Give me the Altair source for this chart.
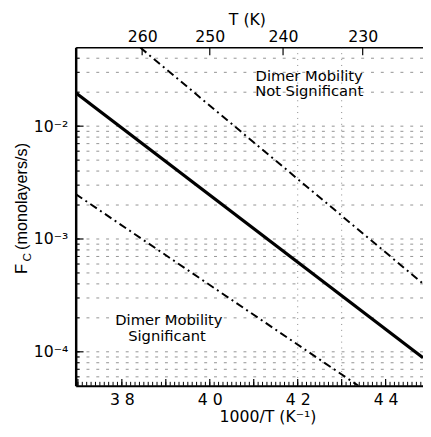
import altair as alt
import pandas as pd

# ---- data ----
solid_x = [3.695, 4.485]
solid_y = [0.0198, 8.87e-5]
upper_x = [3.842, 4.485]
upper_y = [0.0497, 4.02e-4]
lower_x = [3.695, 4.338]
lower_y = [2.5e-3, 5.0e-5]

bottom_ticks = [3.8, 4.0, 4.2, 4.4]
left_ticks = [1e-4, 1e-3, 1e-2]
top_temps = [260, 250, 240, 230]
vgrid_x = [4.2, 4.3]

W, H = 354, 345
FONT = "DejaVu Sans"

xs = alt.Scale(domain=[3.695, 4.485], nice=False, zero=False)
ys = alt.Scale(type="log", domain=[5e-5, 0.05], nice=False)

minor_y = [k * 10.0 ** n for n in range(-5, -1) for k in range(1, 10)]
minor_y = [v for v in minor_y if 5.1e-5 <= v <= 0.049]
minor_x = [round(3.70 + 0.01 * i, 2) for i in range(79)]
major_x = [round(3.70 + 0.1 * i, 1) for i in range(8)]

yaxis = alt.Axis(values=left_ticks,
                 labelExpr="datum.value < 0.0005 ? '10⁻⁴' : (datum.value < 0.005 ? '10⁻³' : '10⁻²')",
                 ticks=False, grid=False, domain=True, domainWidth=2.5, domainColor="black",
                 labelFont=FONT, labelFontSize=16, labelColor="black", labelPadding=8, title=None)
xaxis = alt.Axis(values=bottom_ticks,
                 labelExpr="replace(format(datum.value, '.1f'), '.', '  ')",
                 ticks=False, grid=False, domain=True, domainWidth=2, domainColor="black",
                 labelFont=FONT, labelFontSize=16, labelColor="black",
                 labelBaseline="alphabetic", labelPadding=19, title=None)
topaxis = alt.Axis(orient="top", values=[1000.0 / t for t in top_temps],
                   labelExpr="format(1000/datum.value, '.0f')",
                   ticks=False, grid=False, domain=True, domainWidth=1.5, domainColor="black",
                   labelFont=FONT, labelFontSize=16, labelColor="black",
                   labelBaseline="alphabetic", labelPadding=6, title=None)

hgrid = alt.Chart(pd.DataFrame({"v": minor_y})).mark_rule(
    color="#222", strokeWidth=0.9, strokeDash=[3, 7], opacity=0.55
).encode(y=alt.Y("v:Q", scale=ys, axis=yaxis))

vgrid = alt.Chart(pd.DataFrame({"x": vgrid_x})).mark_rule(
    color="#222", strokeWidth=0.9, strokeDash=[1, 5], opacity=0.6
).encode(x=alt.X("x:Q", scale=xs, axis=None))

left_minor = alt.Chart(pd.DataFrame({"v": minor_y})).mark_rule(color="black", strokeWidth=1).encode(
    y=alt.Y("v:Q", scale=ys, axis=None), x=alt.value(0), x2=alt.value(4))
left_major = alt.Chart(pd.DataFrame({"v": left_ticks})).mark_rule(color="black", strokeWidth=1.2).encode(
    y=alt.Y("v:Q", scale=ys, axis=None), x=alt.value(0), x2=alt.value(8))
bot_minor = alt.Chart(pd.DataFrame({"x": minor_x})).mark_rule(color="black", strokeWidth=1).encode(
    x=alt.X("x:Q", scale=xs, axis=None), y=alt.value(H), y2=alt.value(H - 4))
bot_major = alt.Chart(pd.DataFrame({"x": major_x})).mark_rule(color="black", strokeWidth=1.2).encode(
    x=alt.X("x:Q", scale=xs, axis=None), y=alt.value(H), y2=alt.value(H - 7))

top_ticks = alt.Chart(pd.DataFrame({"T": top_temps})).transform_calculate(
    inv="1000 / datum.T"
).mark_rule(color="black", strokeWidth=1.2).encode(
    x=alt.X("inv:Q", scale=xs, axis=topaxis), y=alt.value(0), y2=alt.value(8))

solid = alt.Chart(pd.DataFrame({"x": solid_x, "y": solid_y})).mark_line(
    color="black", strokeWidth=3.2, clip=True
).encode(x=alt.X("x:Q", scale=xs, axis=xaxis), y=alt.Y("y:Q", scale=ys, axis=None))

upper = alt.Chart(pd.DataFrame({"x": upper_x, "y": upper_y})).mark_line(
    color="black", strokeWidth=2, strokeDash=[8, 4, 2, 4], clip=True
).encode(x=alt.X("x:Q", scale=xs, axis=None), y=alt.Y("y:Q", scale=ys, axis=None))

lower = alt.Chart(pd.DataFrame({"x": lower_x, "y": lower_y})).mark_line(
    color="black", strokeWidth=2, strokeDash=[8, 4, 2, 4], clip=True
).encode(x=alt.X("x:Q", scale=xs, axis=None), y=alt.Y("y:Q", scale=ys, axis=None))


def label(text, px, py, size=15, angle=0, font=FONT, align="center"):
    return alt.Chart(pd.DataFrame({"t": [text]})).mark_text(
        font=font, fontSize=size, color="black", angle=angle, align=align, baseline="alphabetic"
    ).encode(text="t:N", x=alt.value(px), y=alt.value(py))


texts = [
    label("Dimer Mobility", 238, 34),
    label("Not Significant", 238, 50),
    label("Dimer Mobility", 95, 283),
    label("Significant", 93, 299),
    label("T (K)", 175, -23, size=16),
    label("1000/T (K⁻¹)", 196, 382, size=16),
    label("F", -50, 226, size=17, angle=270, font="Liberation Sans"),
    label("C", -46, 214, size=12, angle=270, font="Liberation Sans"),
    label("(monolayers/s)", -50, 152, size=16.5, angle=270, font="Liberation Sans"),
]

chart = alt.layer(
    hgrid, vgrid, left_minor, left_major, bot_minor, bot_major, top_ticks,
    solid, upper, lower, *texts
).resolve_axis(x="independent", y="independent").properties(
    width=W, height=H,
    padding={"left": 69, "top": 36, "right": 0, "bottom": 40},
    autosize=alt.AutoSizeParams(type="none"),
    background="white",
).configure_view(stroke=None)

chart.save("out.html", embed_options={"renderer": "svg", "actions": False})
